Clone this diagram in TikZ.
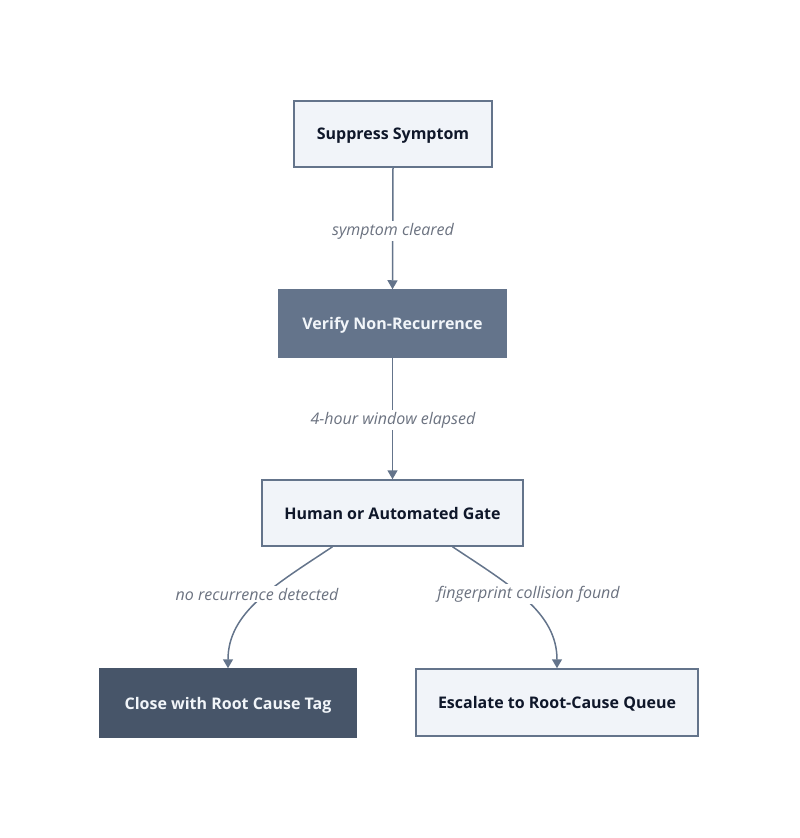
\documentclass[tikz,border=0pt]{standalone}
\usepackage{fontspec}
\setmainfont{Open Sans}
\usetikzlibrary{arrows.meta}
\definecolor{lightfill}{HTML}{F1F4F9}
\definecolor{slateline}{HTML}{64748B}
\definecolor{midfill}{HTML}{64748B}
\definecolor{darkfill}{HTML}{475569}
\definecolor{darktext}{HTML}{0F172A}
\definecolor{lighttext}{HTML}{F1F5F9}
\definecolor{labeltext}{HTML}{6B7280}
\tikzset{
  box/.style={rectangle, inner sep=0pt, text depth=0pt, font=\fontsize{16}{19}\selectfont\bfseries},
  lightbox/.style={box, fill=lightfill, draw=slateline, line width=1.5pt, text=darktext},
  midbox/.style={box, fill=midfill, draw=midfill, line width=1.5pt, text=lighttext},
  darkbox/.style={box, fill=darkfill, draw=darkfill, line width=1.5pt, text=lighttext},
  arr/.style={draw=slateline, line width=1.5pt, -{Triangle[width=10pt,length=9pt]}},
  lbl/.style={fill=white, inner sep=2pt, text=labeltext, font=\fontsize{16}{19}\selectfont\itshape}
}
\begin{document}
\begin{tikzpicture}[x=1pt,y=-1pt]
\useasboundingbox (0,0) rectangle (800,838);
\node[lightbox, minimum width=198pt, minimum height=66pt] (n1) at (393,134) {Suppress Symptom};
\node[midbox, minimum width=227pt, minimum height=67pt] (n2) at (392.5,323.5) {Verify Non-Recurrence};
\node[lightbox, minimum width=261pt, minimum height=66pt] (n3) at (392.5,513) {Human or Automated Gate};
\node[darkbox, minimum width=256pt, minimum height=68pt] (n4) at (228,703) {Close with Root Cause Tag};
\node[lightbox, minimum width=282pt, minimum height=67pt] (n5) at (557,702.5) {Escalate to Root-Cause Queue};

\draw[arr] (n1.south) -- (n2.north);
\draw[arr] (n2.south) -- (n3.north);
\draw[arr] ([xshift=-60pt]n3.south) .. controls (275,585) and (228,612) .. (n4.north);
\draw[arr] ([xshift=60pt]n3.south) .. controls (510,585) and (557,612) .. (n5.north);

\node[lbl] (l1) at (393,231) {symptom cleared};
\node[lbl] (l2) at (393,420) {4-hour window elapsed};
\node[lbl] (l3) at (257,594) {no recurrence detected};
\node[lbl] (l4) at (528.5,594) {fingerprint collision found};
\end{tikzpicture}
\end{document}
